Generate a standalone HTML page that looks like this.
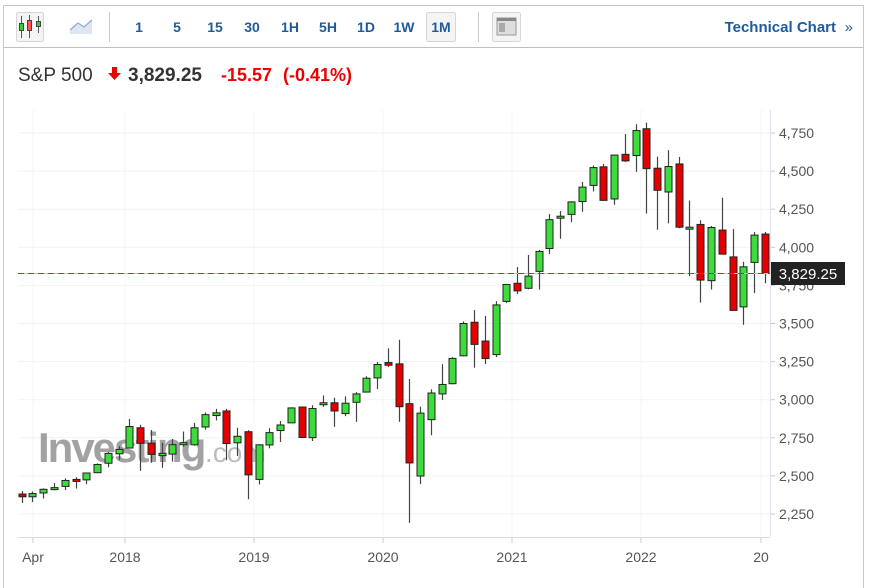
<!DOCTYPE html>
<html><head><meta charset="utf-8"><style>
body{margin:0;background:#fff;width:870px;height:588px;overflow:hidden;font-family:"Liberation Sans",Arial,sans-serif}
svg{position:absolute;left:0;top:0}
</style></head><body>
<svg id="s" width="870" height="588" xmlns="http://www.w3.org/2000/svg" font-family="Liberation Sans, Arial, sans-serif">
<rect x="3.5" y="5.5" width="860" height="590" fill="#fff" stroke="#c8c8c8"/>
<line x1="4" y1="47.5" x2="863" y2="47.5" stroke="#c0c0c0"/>
<rect x="16.5" y="12.5" width="27" height="29" rx="2" fill="#f4f4f4" stroke="#d6d6d6"/>
<line x1="21.5" y1="16" x2="21.5" y2="38" stroke="#555"/><rect x="19.5" y="23.5" width="4" height="7" fill="#3c3" stroke="#444"/>
<line x1="29.5" y1="15" x2="29.5" y2="38" stroke="#555"/><rect x="27.5" y="20.5" width="4" height="10" fill="#f55" stroke="#444"/>
<line x1="38.5" y1="16" x2="38.5" y2="33" stroke="#555"/><rect x="36.5" y="21.5" width="4" height="5" fill="#3c3" stroke="#444"/>
<path d="M70 30 L78 23 L84 27 L92 20 L92 34 L70 34Z" fill="#dde6f2"/><path d="M70 30 L78 23 L84 27 L92 20" fill="none" stroke="#8fa8cc" stroke-width="1.2"/>
<line x1="109.5" y1="12" x2="109.5" y2="42" stroke="#ccc"/>
<g font-size="14" font-weight="bold" fill="#1f5a9a" text-anchor="middle">
<text x="139" y="32">1</text><text x="177" y="32">5</text><text x="215" y="32">15</text><text x="252" y="32">30</text><text x="290" y="32">1H</text><text x="328" y="32">5H</text><text x="366" y="32">1D</text><text x="404" y="32">1W</text>
<rect x="426.5" y="12.5" width="29" height="29" rx="2" fill="#f4f4f4" stroke="#d6d6d6"/><text x="441" y="32">1M</text></g>
<line x1="478.5" y1="12" x2="478.5" y2="42" stroke="#ccc"/>
<rect x="492.5" y="12.5" width="28" height="29" rx="2" fill="#f4f4f4" stroke="#d6d6d6"/>
<rect x="497" y="18" width="19" height="17" fill="#ddd" stroke="#999"/><rect x="497" y="18" width="19" height="3" fill="#888"/><rect x="499" y="23" width="6" height="9" fill="#aaa"/>
<text x="836" y="32" font-size="15" font-weight="bold" fill="#1f5a9a" text-anchor="end">Technical Chart</text><text x="853" y="32" font-size="15" fill="#1f5a9a" text-anchor="end">»</text>
<text x="18" y="81" font-size="19" fill="#333">S&amp;P 500</text>
<path d="M112 67h5v6h4l-6.5 7-6.5-7h4z" fill="#e00"/>
<text x="128" y="81" font-size="19" font-weight="bold" fill="#333">3,829.25</text>
<text x="221" y="81" font-size="18" font-weight="bold" fill="#e00">-15.57</text>
<text x="283" y="81" font-size="18" font-weight="bold" fill="#e00">(-0.41%)</text>
<g id="grid"></g>
<text x="38" y="462" font-size="42" font-weight="bold" fill="#666" opacity="0.6" letter-spacing="-2">Investing</text>
<text x="205" y="462" font-size="28" fill="#888" opacity="0.55">.com</text>
<g id="c"></g>
<line x1="18" y1="273.5" x2="770" y2="273.5" stroke="#f3b0b0" stroke-width="1"/>
<line x1="18" y1="273.5" x2="770" y2="273.5" stroke="#b33" stroke-dasharray="6,4"/>
<line x1="770.5" y1="110" x2="770.5" y2="537" stroke="#dde3ec"/>
<line x1="18" y1="537.5" x2="770" y2="537.5" stroke="#d8dde6"/>
<g id="ax" font-size="14" fill="#555"></g>
<rect x="771" y="262" width="74" height="23" fill="#222"/>
<text x="808" y="279" font-size="15" fill="#fff" text-anchor="middle">3,829.25</text>
</svg>
<script>
const Y=p=>133+(4750-p)*0.1524;
const d=[[2381,2400,2322,2363],[2363,2398,2328,2384],[2388,2418,2352,2412],[2415,2453,2405,2423],[2431,2484,2407,2470],[2477,2491,2417,2472],[2474,2519,2446,2519],[2521,2582,2520,2575],[2583,2657,2557,2648],[2645,2695,2605,2674],
[2683,2873,2683,2824],[2816,2835,2533,2714],[2715,2801,2586,2641],[2633,2717,2553,2648],[2643,2742,2594,2705],[2718,2791,2691,2718],[2704,2848,2698,2816],[2821,2916,2803,2902],[2896,2940,2864,2914],[2926,2940,2603,2712],[2717,2816,2631,2760],[2790,2800,2347,2507],
[2477,2708,2444,2704],[2703,2813,2681,2784],[2798,2860,2722,2834],[2848,2950,2848,2946],[2952,2954,2751,2752],[2751,2964,2729,2942],[2971,3028,2953,2980],[2980,3013,2822,2926],[2909,3022,2892,2977],[2983,3050,2855,3038],[3050,3154,3050,3141],[3143,3248,3070,3231],
[3244,3337,3214,3226],[3235,3393,2855,2954],[2974,3136,2192,2585],[2499,2954,2447,2912],[2869,3068,2767,3044],[3038,3233,2999,3100],[3105,3279,3101,3271],[3288,3514,3284,3500],[3508,3588,3210,3363],[3385,3550,3234,3270],[3296,3646,3280,3622],[3645,3760,3634,3756],
[3764,3870,3694,3714],[3731,3950,3725,3811],[3842,3983,3723,3973],[3992,4218,3955,4181],[4191,4238,4056,4204],[4216,4302,4165,4298],[4300,4429,4233,4395],[4406,4537,4367,4523],[4528,4546,4305,4308],[4317,4608,4279,4605],[4610,4743,4560,4567],[4602,4808,4495,4766],
[4778,4818,4222,4516],[4519,4595,4115,4374],[4363,4637,4157,4530],[4547,4593,4125,4132],[4130,4307,3811,4132],[4150,4177,3637,3785],[3781,4140,3723,4130],[4113,4325,3955,3955],[3937,4119,3585,3586],[3609,3905,3491,3872],[3901,4100,3699,4080],[4087,4101,3764,3829]];
let g='',gr='',ax='';
[2250,2500,2750,3000,3250,3500,3750,4000,4250,4500,4750].forEach(p=>{const y=Y(p);gr+=`<line x1="18" y1="${y}" x2="770" y2="${y}" stroke="#f2f2f2"/>`;ax+=`<line x1="771" y1="${y}" x2="775" y2="${y}" stroke="#ccc"/><text x="779" y="${y+5}">${p.toLocaleString('en-US')}</text>`;});
[[33,'Apr'],[125,'2018'],[254,'2019'],[383,'2020'],[512,'2021'],[641,'2022'],[761,'20']].forEach(([x,t])=>{gr+=`<line x1="${x}" y1="110" x2="${x}" y2="537" stroke="#f2f4f8"/>`;ax+=`<line x1="${x}" y1="538" x2="${x}" y2="543" stroke="#ccc"/><text x="${x}" y="562" text-anchor="middle">${t}</text>`;});
d.forEach((c,i)=>{const x=Math.round(21.7+i*10.77)+0.5;const[o,h,l,cl]=c;const up=cl>=o;
const t=Y(Math.max(o,cl)),b=Y(Math.min(o,cl));
g+=`<line x1="${x}" y1="${Y(h)}" x2="${x}" y2="${Y(l)}" stroke="#444" stroke-width="1.2"/><rect x="${x-3.5}" y="${t}" width="7" height="${Math.max(b-t,2)}" fill="${up?'#3bdc3b':'#e50000'}" stroke="#222" stroke-width="1"/>`;});
document.getElementById('grid').innerHTML=gr;document.getElementById('c').innerHTML=g;document.getElementById('ax').innerHTML=ax;
</script>
</body></html>
